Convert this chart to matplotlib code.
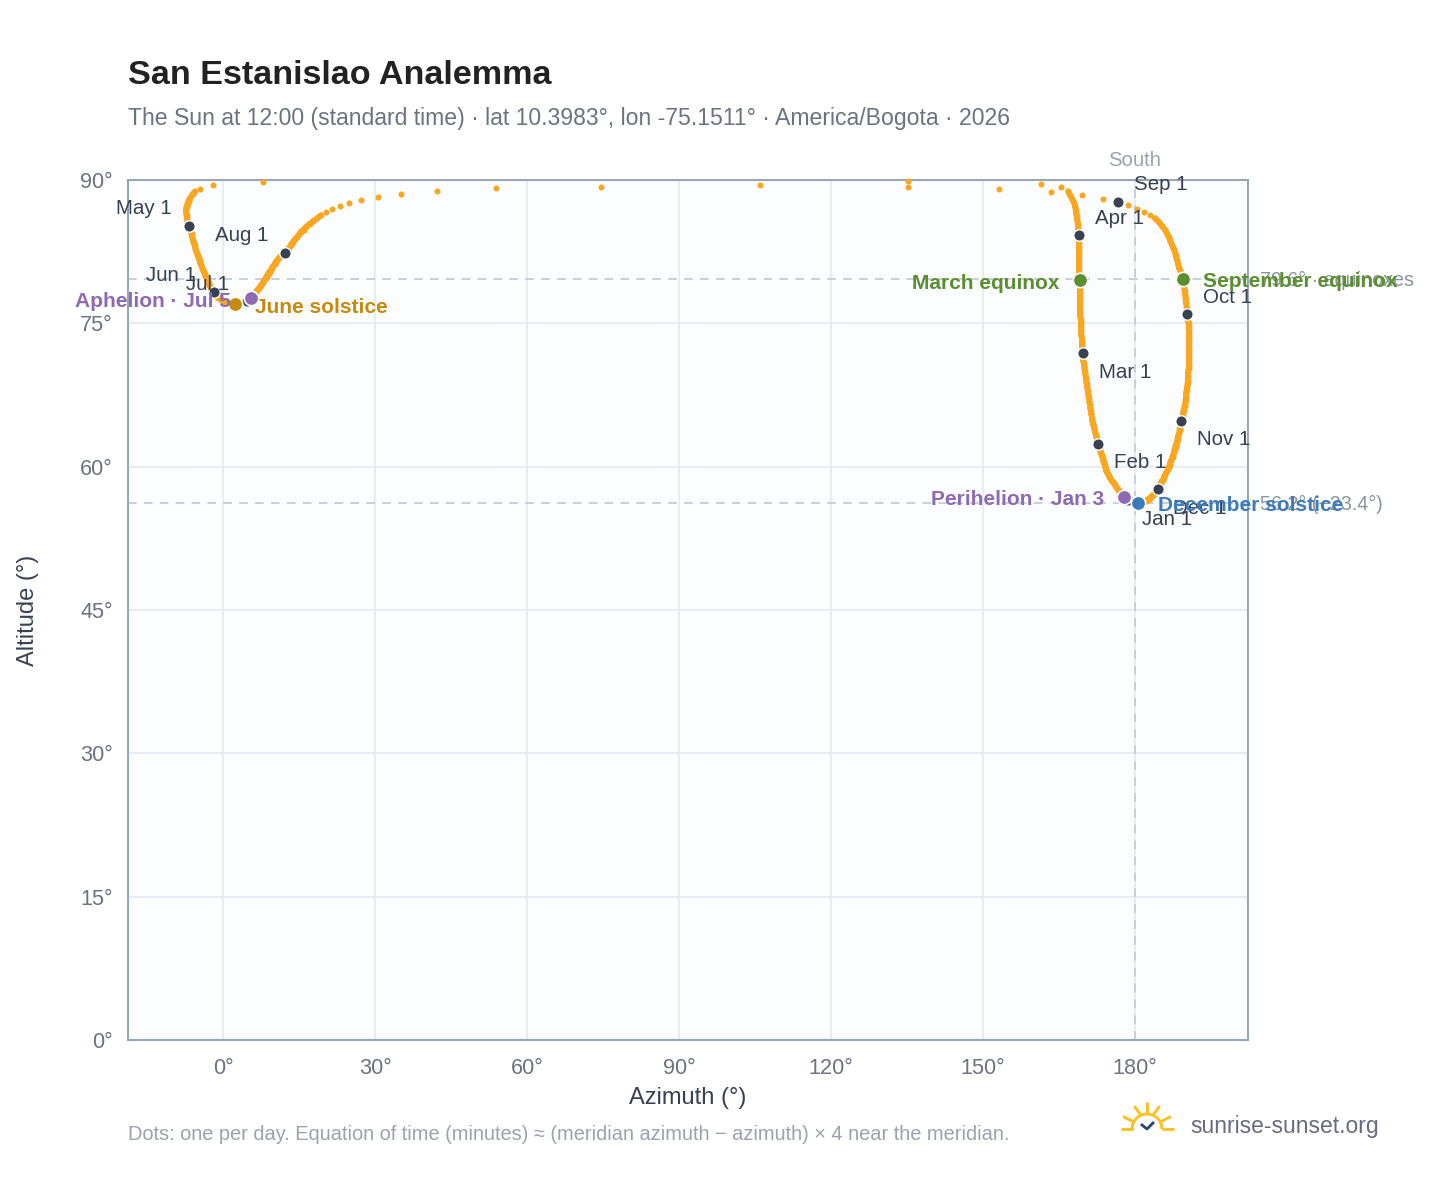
import numpy as np
from matplotlib import pyplot as plt
from matplotlib.patches import Arc

plt.rcParams['font.family'] = ['Liberation Sans', 'DejaVu Sans']

# one point per day: azimuth / altitude in degrees
jan_az = [178.6, 178.2, 177.8, 177.7, 177.5, 177.4, 177.3, 177.0, 176.9, 176.7, 176.4, 176.3, 176.0, 175.8, 175.6, 175.35,
          175.1, 174.9, 174.7, 174.45, 174.3, 174.2, 174.1, 174.0, 173.8, 173.7, 173.6, 173.4, 173.3, 173.1, 173.0]
jan_alt = [56.5, 56.7, 56.8, 56.9, 57.0, 57.1, 57.2, 57.4, 57.5, 57.6, 57.8, 57.9, 58.1, 58.3, 58.4, 58.6,
           58.8, 59.0, 59.2, 59.4, 59.6, 59.8, 60.0, 60.2, 60.5, 60.7, 60.9, 61.2, 61.4, 61.7, 62.0]
feb_az = [172.7, 172.5, 172.4, 172.3, 172.1, 172.0, 171.9, 171.7, 171.6, 171.5, 171.4, 171.3, 171.2, 171.1,
          171.0, 170.9, 170.8, 170.7, 170.6, 170.5, 170.4, 170.3, 170.2, 170.1, 170.0, 169.9, 169.8, 169.8]
feb_alt = [62.4, 62.7, 63.0, 63.3, 63.6, 63.9, 64.2, 64.5, 64.8, 65.1, 65.5, 65.8, 66.1, 66.5,
           66.8, 67.2, 67.5, 67.9, 68.2, 68.6, 68.9, 69.3, 69.7, 70.0, 70.4, 70.8, 71.1, 71.5]
mar_az = [169.7, 169.6, 169.6, 169.5, 169.5, 169.4, 169.4, 169.3, 169.3, 169.3, 169.2, 169.2, 169.2, 169.1, 169.1, 169.1,
          169.1, 169.1, 169.1, 169.1, 169.0, 169.0, 169.0, 169.0, 169.0, 169.0, 169.0, 169.0, 168.9, 168.9, 168.9]
mar_alt = [71.9, 72.3, 72.7, 73.0, 73.4, 73.8, 74.2, 74.6, 75.0, 75.4, 75.8, 76.2, 76.6, 77.0, 77.4, 77.8,
           78.2, 78.6, 79.0, 79.5, 79.9, 80.3, 80.7, 81.1, 81.5, 81.9, 82.3, 82.6, 83.0, 83.4, 83.8]
apr_az = [168.9, 168.8, 168.8, 168.7, 168.6, 168.5, 168.4, 168.3, 168.2, 168.0, 167.6, 167.2, 166.8, 165.4, 161.4,
          135.2, 7.9, -2.0, -4.5, -5.5, -6.0, -6.5, -6.8, -7.0, -7.2, -7.3, -7.3, -7.2, -7.1, -7.0]
apr_alt = [84.2, 84.6, 85.0, 85.4, 85.8, 86.2, 86.5, 86.9, 87.2, 87.6, 88.0, 88.4, 88.8, 89.3, 89.6,
           89.9, 89.8, 89.5, 89.1, 88.8, 88.5, 88.1, 87.8, 87.5, 87.2, 86.9, 86.6, 86.3, 86.0, 85.6]
may_az = [-6.7, -6.5, -6.3, -6.2, -6.1, -5.9, -5.8, -5.6, -5.5, -5.3, -5.1, -5.0, -4.8, -4.6, -4.5, -4.3,
          -4.1, -3.9, -3.8, -3.6, -3.5, -3.3, -3.1, -3.0, -2.8, -2.7, -2.5, -2.4, -2.2, -2.1, -2.0]
may_alt = [85.2, 84.9, 84.6, 84.3, 84.0, 83.7, 83.4, 83.2, 82.9, 82.6, 82.3, 82.1, 81.8, 81.6, 81.3, 81.1,
           80.8, 80.6, 80.4, 80.2, 80.0, 79.8, 79.6, 79.4, 79.2, 79.0, 78.9, 78.7, 78.6, 78.4, 78.3]
jun_az = [-1.8, -1.6, -1.4, -1.2, -1.1, -0.9, -0.7, -0.5, -0.3, -0.1, 0.1, 0.3, 0.5, 0.7, 0.9,
          1.2, 1.4, 1.6, 1.9, 2.1, 2.4, 2.6, 2.8, 3.0, 3.2, 3.4, 3.6, 3.8, 4.0, 4.2]
jun_alt = [78.3, 78.1, 78.0, 77.9, 77.8, 77.7, 77.6, 77.5, 77.5, 77.4, 77.3, 77.3, 77.2, 77.2, 77.1,
           77.1, 77.1, 77.0, 77.0, 77.0, 77.0, 77.0, 77.0, 77.0, 77.1, 77.1, 77.1, 77.1, 77.2, 77.2]
jul_az = [4.7, 4.9, 5.1, 5.3, 5.5, 5.7, 5.9, 6.1, 6.4, 6.6, 6.8, 7.0, 7.3, 7.5, 7.7, 7.9,
          8.1, 8.4, 8.6, 8.8, 9.0, 9.2, 9.5, 9.7, 9.9, 10.2, 10.4, 10.7, 11.0, 11.3, 11.7]
jul_alt = [77.3, 77.4, 77.5, 77.6, 77.65, 77.8, 77.9, 78.0, 78.2, 78.3, 78.5, 78.6, 78.8, 79.0, 79.1, 79.3,
           79.5, 79.7, 79.9, 80.1, 80.3, 80.4, 80.6, 80.8, 81.0, 81.2, 81.4, 81.6, 81.8, 82.0, 82.2]
aug_az = [12.2, 12.6, 13.0, 13.4, 13.8, 14.2, 14.6, 15.0, 15.4, 15.9, 16.4, 17.1, 17.8, 18.6, 19.3, 20.3,
          21.5, 23.1, 24.9, 27.2, 30.6, 35.1, 42.2, 53.9, 74.6, 106.0, 135.2, 153.1, 163.4, 169.5, 173.6]
aug_alt = [82.4, 82.7, 82.9, 83.2, 83.5, 83.8, 84.0, 84.3, 84.6, 84.8, 85.1, 85.4, 85.7, 86.0, 86.3, 86.6,
           87.0, 87.3, 87.6, 87.9, 88.2, 88.5, 88.8, 89.2, 89.3, 89.5, 89.3, 89.1, 88.7, 88.4, 88.0]
sep_az = [176.6, 178.7, 180.3, 181.7, 182.9, 183.9, 184.7, 185.3, 185.9, 186.3, 186.7, 187.0, 187.3, 187.6, 187.9,
          188.1, 188.3, 188.5, 188.7, 188.9, 189.1, 189.3, 189.5, 189.6, 189.7, 189.8, 189.9, 190.0, 190.1, 190.2]
sep_alt = [87.7, 87.4, 87.0, 86.7, 86.3, 86.0, 85.6, 85.2, 84.8, 84.4, 84.0, 83.6, 83.2, 82.8, 82.4,
           82.0, 81.6, 81.2, 80.8, 80.6, 80.2, 79.9, 79.6, 79.2, 78.8, 78.4, 78.0, 77.5, 77.1, 76.6]
oct_az = [190.3, 190.4, 190.5, 190.6, 190.6, 190.7, 190.7, 190.7, 190.7, 190.7, 190.7, 190.7, 190.7, 190.6, 190.6, 190.6,
          190.5, 190.5, 190.4, 190.4, 190.3, 190.2, 190.1, 190.1, 190.0, 189.9, 189.8, 189.6, 189.5, 189.4, 189.2]
oct_alt = [76.0, 75.6, 75.2, 74.9, 74.5, 74.1, 73.7, 73.3, 72.9, 72.5, 72.2, 71.8, 71.4, 71.0, 70.6, 70.3,
           69.9, 69.5, 69.1, 68.8, 68.4, 68.0, 67.7, 67.3, 67.0, 66.6, 66.3, 65.9, 65.6, 65.3, 65.0]
nov_az = [189.1, 189.0, 188.9, 188.8, 188.7, 188.5, 188.4, 188.3, 188.1, 188.0, 187.8, 187.7, 187.5, 187.4, 187.2,
          187.0, 186.9, 186.7, 186.5, 186.4, 186.2, 186.0, 185.8, 185.7, 185.5, 185.3, 185.1, 184.9, 184.8, 184.6]
nov_alt = [64.8, 64.5, 64.2, 63.8, 63.5, 63.2, 62.9, 62.6, 62.3, 62.1, 61.8, 61.5, 61.2, 61.0, 60.7,
           60.5, 60.2, 60.0, 59.8, 59.6, 59.4, 59.2, 59.0, 58.8, 58.6, 58.5, 58.3, 58.1, 58.0, 57.8]
dec_az = [184.5, 184.3, 184.1, 183.9, 183.7, 183.5, 183.3, 183.1, 182.9, 182.7, 182.5, 182.3, 182.1, 181.9, 181.7, 181.5,
          181.3, 181.1, 180.9, 180.7, 180.6, 180.3, 180.1, 179.9, 179.7, 179.5, 179.3, 179.2, 179.0, 178.8, 178.7]
dec_alt = [57.7, 57.5, 57.3, 57.2, 57.1, 57.0, 56.9, 56.8, 56.7, 56.6, 56.5, 56.5, 56.4, 56.4, 56.3, 56.3,
           56.3, 56.2, 56.2, 56.2, 56.2, 56.2, 56.2, 56.2, 56.2, 56.2, 56.3, 56.3, 56.3, 56.4, 56.4]

months = ['Jan', 'Feb', 'Mar', 'Apr', 'May', 'Jun', 'Jul', 'Aug', 'Sep', 'Oct', 'Nov', 'Dec']
month_az = [jan_az, feb_az, mar_az, apr_az, may_az, jun_az, jul_az, aug_az, sep_az, oct_az, nov_az, dec_az]
month_alt = [jan_alt, feb_alt, mar_alt, apr_alt, may_alt, jun_alt, jul_alt, aug_alt, sep_alt, oct_alt, nov_alt, dec_alt]
# label offset from the dot, in pixels
month_dx = [39, 42, 42, 41, -45, -43, -39, -43, 43, 40, 43, 42]
month_dy = [19, 19, 20, -17, -17, -16, -17, -17, -17, -16, 19, 20]

key_names = ['March equinox', 'September equinox', 'June solstice', 'December solstice', 'Perihelion · Jan 3', 'Aphelion · Jul 5']
key_az = [169.1, 189.5, 2.4, 180.6, 177.8, 5.5]
key_alt = [79.5, 79.6, 77.0, 56.2, 56.8, 77.65]
key_colors = ['#5a8f30', '#5a8f30', '#c68a0c', '#3a7abd', '#8e6ab3', '#8e6ab3']
key_dx = [-20, 20, 20, 20, -20, -20]
key_dy = [3, 2, 3, 3, 2, 3]

equinox_alt = 79.6
solstice_alt = 56.2
south_az = 180

W, H = 1448, 1188
ORANGE = '#f9a620'
DARK = '#374151'
DASH = '#c5ccd5'

fig = plt.figure(figsize=(W / 100, H / 100), dpi=100, facecolor='white')
ax = fig.add_axes([128 / W, 1 - 1040 / H, 1120 / W, 860 / H], facecolor='#fbfdff')
ax.set_xlim(-18.75, 202.3)
ax.set_ylim(0, 90)
ax.set_xticks(range(0, 181, 30))
ax.set_yticks(range(0, 91, 15))
ax.set_xticklabels(['{}°'.format(v) for v in range(0, 181, 30)])
ax.set_yticklabels(['{}°'.format(v) for v in range(0, 91, 15)])
ax.tick_params(length=0, labelsize=15.6, labelcolor='#6b7280', pad=11)
ax.tick_params(axis='x', pad=13)
ax.grid(color='#e8edf3', linewidth=1.5, zorder=0)
ax.set_axisbelow(True)
for s in ax.spines.values():
    s.set_color('#9aa6b2')
    s.set_linewidth(1.5)

ax.axhline(equinox_alt, color=DASH, lw=1.3, dashes=(4.8, 4), zorder=1)
ax.axhline(solstice_alt, color=DASH, lw=1.3, dashes=(4.8, 4), zorder=1)
ax.axvline(south_az, color=DASH, lw=1.3, dashes=(4.8, 4), zorder=1)

az = np.concatenate(month_az)
alt = np.concatenate(month_alt)
ax.scatter(az, alt, s=19, color=ORANGE, linewidths=0, zorder=3, clip_on=False)

# the dots merge into a band where the days lie close together
near = np.abs(np.diff(az)) < 0.85
for i in np.where(near)[0]:
    ax.plot(az[i:i + 2], alt[i:i + 2], color=ORANGE, lw=4.2, solid_capstyle='round', zorder=3)

# first of each month
for i, m in enumerate(months):
    x, y = month_az[i][0], month_alt[i][0]
    ax.scatter([x], [y], s=68, color=DARK, edgecolors='white', linewidths=1, zorder=4)
    ax.annotate('{} 1'.format(m), (x, y), xytext=(month_dx[i] * 0.72, -month_dy[i] * 0.72),
                textcoords='offset points', ha='center', va='center', fontsize=14.8,
                color=DARK, zorder=6, annotation_clip=False)

# reference labels outside the axes
ax.annotate('79.6° · equinoxes', (1, equinox_alt), xycoords=('axes fraction', 'data'), xytext=(12 * 0.72, -1),
            textcoords='offset points', va='center', fontsize=14.2, color='#8b949e', annotation_clip=False, zorder=5)
ax.annotate('56.2° (−23.4°)', (1, solstice_alt), xycoords=('axes fraction', 'data'), xytext=(12 * 0.72, -1),
            textcoords='offset points', va='center', fontsize=14.2, color='#8b949e', annotation_clip=False, zorder=5)
ax.annotate('South', (south_az, 90), xytext=(0, 19 * 0.72), textcoords='offset points', ha='center', va='center',
            fontsize=14.6, color='#9aa3ad', annotation_clip=False)

# equinoxes, solstices, perihelion and aphelion
for i, name in enumerate(key_names):
    ax.scatter([key_az[i]], [key_alt[i]], s=108, color=key_colors[i], edgecolors='white', linewidths=1.2, zorder=7)
    ax.annotate(name, (key_az[i], key_alt[i]), xytext=(key_dx[i] * 0.72, -key_dy[i] * 0.72),
                textcoords='offset points', ha='left' if key_dx[i] > 0 else 'right', va='center',
                fontsize=15.05, fontweight='bold', color=key_colors[i], zorder=8, annotation_clip=False)

ax.set_xlabel('Azimuth (°)', fontsize=17, color=DARK, labelpad=0)
ax.xaxis.set_label_coords((688 - 128) / 1120, -(1098 - 1040) / 860, transform=ax.transAxes)
ax.xaxis.label.set_va('center')
ax.set_ylabel('Altitude (°)', fontsize=17, color=DARK)
ax.yaxis.set_label_coords((28 - 128) / 1120, (1040 - 610) / 860, transform=ax.transAxes)
ax.yaxis.label.set_va('center')

# overlay in pixel coordinates for title, footer and logo
top = fig.add_axes([0, 0, 1, 1], zorder=10)
top.set_xlim(0, W)
top.set_ylim(H, 0)
top.axis('off')
top.patch.set_alpha(0)
top.text(128, 76, 'San Estanislao Analemma', fontsize=24.6, fontweight='bold', color='#222222', va='center')
top.text(128, 118, 'The Sun at 12:00 (standard time) · lat 10.3983°, lon -75.1511° · America/Bogota · 2026',
         fontsize=16.55, color='#6b7280', va='center')
top.text(128, 1134, 'Dots: one per day. Equation of time (minutes) ≈ (meridian azimuth − azimuth) × 4 near the meridian.',
         fontsize=14.4, color='#9aa3ad', va='center')
top.text(1190, 1126, 'sunrise-sunset.org', fontsize=16.5, color='#6b6b80', va='center')

YEL = '#f8c42a'
for x0, y0, x1, y1 in [(1122, 1129, 1132, 1129), (1163, 1129, 1173, 1129), (1147, 1103, 1147, 1113),
                       (1135, 1107, 1140, 1114), (1159, 1107, 1154, 1114), (1124, 1117, 1132, 1121),
                       (1170, 1117, 1162, 1121)]:
    top.plot([x0, x1], [y0, y1], color=YEL, lw=2.2, solid_capstyle='round')
top.add_patch(Arc((1147, 1129), 30, 30, theta1=180, theta2=360, color=YEL, lw=2.2))
top.plot([1142, 1147, 1153], [1125, 1129, 1123], color='#24476b', lw=2)

fig.savefig('out.png', dpi=100)
